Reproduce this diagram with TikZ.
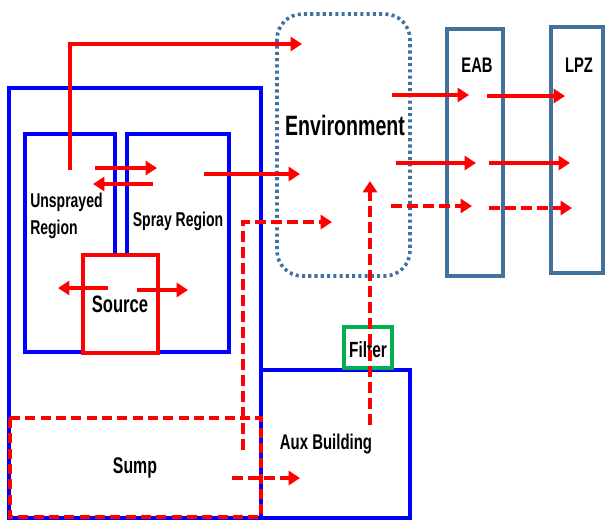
\documentclass[tikz,border=0pt]{standalone}
\usepackage{fontspec}
\setmainfont{Liberation Sans}[FakeStretch=0.7]
\usetikzlibrary{arrows.meta}
\definecolor{steel}{HTML}{41719C}
\definecolor{fgreen}{HTML}{00B050}
\begin{document}
\begin{tikzpicture}[x=0.75pt,y=-0.75pt,
  bluebox/.style={draw=blue, line width=3pt},
  steelbox/.style={draw=steel, line width=2.4pt},
  envbox/.style={draw=steel, line width=2.7pt, dash pattern=on 2.3pt off 2.4pt, rounded corners=19pt},
  sumpbox/.style={draw=red, line width=2.6pt, dash pattern=on 7.5pt off 4pt},
  srcbox/.style={draw=red, fill=white, line width=3pt},
  filterbox/.style={draw=fgreen, fill=white, line width=2.6pt},
  flow/.style={draw=red, line width=3pt, -{Triangle[length=8.5pt,width=10.5pt]}},
  dflow/.style={flow, dash pattern=on 8pt off 4pt},
  lbl/.style={inner sep=0pt, text=black}
]
\useasboundingbox (0,0) rectangle (606,519);

% boxes
\draw[bluebox] (9,88) rectangle (261,518);
\draw[bluebox] (25,134) rectangle (115,352);
\draw[bluebox] (127,134) rectangle (229,352);
\draw[envbox] (277,14) rectangle (410,276);
\draw[steelbox] (447,29) rectangle (503,276);
\draw[steelbox] (551,27) rectangle (603,273);
\draw[bluebox] (261,370) rectangle (410,518);
\draw[sumpbox] (10,418) rectangle (261,517);
\draw[srcbox] (83,255) rectangle (158,353);
\draw[filterbox] (344,327) rectangle (392,368);

% labels
\node[lbl, anchor=base, font=\bfseries\fontsize{21pt}{24pt}\selectfont] (env) at (345,135) {Environment};
\node[lbl, anchor=north west, align=left, font=\bfseries\fontsize{15pt}{20pt}\selectfont] (unspr) at (30,193) {Unsprayed\\Region};
\node[lbl, anchor=base, font=\bfseries\fontsize{15pt}{18pt}\selectfont] (spray) at (178,226) {Spray Region};
\node[lbl, anchor=base, font=\bfseries\fontsize{17.8pt}{20pt}\selectfont] (src) at (120,312) {Source};
\node[lbl, anchor=base, font=\bfseries\fontsize{17pt}{20pt}\selectfont] (sump) at (135,473) {Sump};
\node[lbl, anchor=base, font=\bfseries\fontsize{16pt}{19pt}\selectfont] (aux) at (326,449) {Aux Building};
\node[lbl, anchor=base, font=\bfseries\fontsize{15.8pt}{18pt}\selectfont] (eab) at (477,72) {EAB};
\node[lbl, anchor=base, font=\bfseries\fontsize{15.8pt}{18pt}\selectfont] (lpz) at (579,72) {LPZ};
\node[lbl, anchor=base, font=\bfseries\fontsize{16.5pt}{19pt}\selectfont] (filt) at (368,357) {Filter};

% connector end points
\coordinate (u1) at (70,170);
\coordinate (u2) at (70,44);
\coordinate (e1) at (302,44);
\coordinate (us1) at (95,168);
\coordinate (us2) at (157,168);
\coordinate (su1) at (153,184);
\coordinate (su2) at (93,184);
\coordinate (se1) at (204,174);
\coordinate (se2) at (300,174);
\coordinate (d1) at (243,450);
\coordinate (d2) at (243,222);
\coordinate (d3) at (332,222);
\coordinate (sl1) at (108,288);
\coordinate (sl2) at (58,288);
\coordinate (sr1) at (137,290);
\coordinate (sr2) at (188,290);
\coordinate (sa1) at (232,478);
\coordinate (sa2) at (300,478);
\coordinate (ae1) at (370,425);
\coordinate (ae2) at (370,181);
\coordinate (ea1) at (392,95);
\coordinate (ea2) at (469,95);
\coordinate (eb1) at (396,163);
\coordinate (eb2) at (476,163);
\coordinate (ec1) at (391,206);
\coordinate (ec2) at (472,206);
\coordinate (la1) at (487,96);
\coordinate (la2) at (565,96);
\coordinate (lb1) at (489,163);
\coordinate (lb2) at (570,163);
\coordinate (lc1) at (489,208);
\coordinate (lc2) at (572,208);

% arrows
\draw[flow] (u1) -- (u2) -- (e1);
\draw[flow] (us1) -- (us2);
\draw[flow] (su1) -- (su2);
\draw[flow] (se1) -- (se2);
\draw[dflow] (d1) -- (d2) -- (d3);
\draw[flow] (sl1) -- (sl2);
\draw[flow] (sr1) -- (sr2);
\draw[dflow] (sa1) -- (sa2);
\draw[dflow] (ae1) -- (ae2);
\draw[flow] (ea1) -- (ea2);
\draw[flow] (eb1) -- (eb2);
\draw[dflow] (ec1) -- (ec2);
\draw[flow] (la1) -- (la2);
\draw[flow] (lb1) -- (lb2);
\draw[dflow] (lc1) -- (lc2);
\end{tikzpicture}
\end{document}
